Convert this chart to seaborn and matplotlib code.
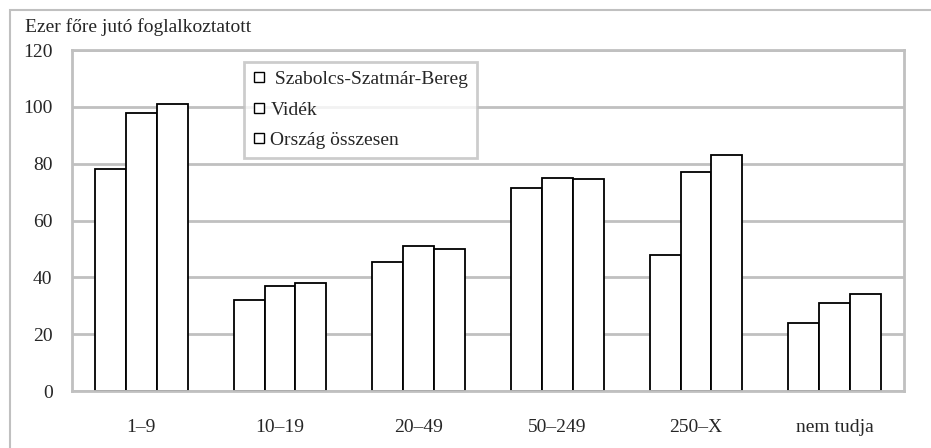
import numpy as np
import pandas as pd
import matplotlib.pyplot as plt
import seaborn as sns
from matplotlib.lines import Line2D
from matplotlib.patches import Rectangle

# Data
categories = ["1\u20139", "10\u201319", "20\u201349", "50\u2013249", "250\u2013X", "nem tudja"]
series = [" Szabolcs-Szatmár-Bereg", "Vidék", "Ország összesen"]
szabolcs = [78, 32, 45.5, 71.5, 48, 24]
videk = [98, 37, 51, 75, 77, 31]
orszag = [101, 38, 50, 74.5, 83, 34]
y_ticks = [0, 20, 40, 60, 80, 100, 120]

GRID = "#c0c0c0"
FS = 14

sns.set_style("white")
plt.rcParams["font.family"] = ["Liberation Serif", "DejaVu Serif"]
plt.rcParams["font.size"] = FS

df = pd.DataFrame({
    "kat": categories * 3,
    "sor": [s for s in series for _ in categories],
    "ertek": szabolcs + videk + orszag,
})

fig = plt.figure(figsize=(9.31, 4.48), dpi=100)
ax = fig.add_axes([72 / 931, 1 - 391 / 448, (904 - 72) / 931, (391 - 50) / 448])

sns.barplot(data=df, x="kat", y="ertek", hue="sor", order=categories,
            hue_order=series, palette=["white"] * 3, edgecolor="black",
            linewidth=1.3, width=0.67, saturation=1, legend=False, ax=ax)

ax.set_xlim(-0.5, len(categories) - 0.5)
ax.set_ylim(0, 120)
ax.set_yticks(y_ticks)
ax.yaxis.grid(True, color=GRID, linewidth=2)
ax.set_axisbelow(True)
for sp in ax.spines.values():
    sp.set_color(GRID)
    sp.set_linewidth(2)
    sp.set_visible(True)

ax.set_xlabel("")
ax.set_ylabel("")
ax.tick_params(axis="y", length=0, pad=14, labelsize=FS)
ax.tick_params(axis="x", which="major", length=0, pad=20, labelsize=FS)
ax.set_xticks(np.arange(len(categories) - 1) + 0.5, minor=True)
ax.tick_params(axis="x", which="minor", direction="in", length=5,
               width=2, color=GRID)

handles = [Line2D([], [], marker="s", linestyle="", markersize=7.5,
                  markerfacecolor="white", markeredgecolor="black",
                  markeredgewidth=1) for _ in series]
leg = ax.legend(handles, series, loc="upper left",
                bbox_to_anchor=(0.207, 0.965), frameon=True, fancybox=False,
                fontsize=FS, handlelength=0.6, handletextpad=0.3,
                labelspacing=0.65, borderpad=0.45, borderaxespad=0)
leg.get_frame().set_edgecolor(GRID)
leg.get_frame().set_linewidth(2)

fig.text(25 / 931, 1 - 27 / 448, "Ezer főre jutó foglalkoztatott",
         ha="left", va="center", fontsize=FS)

# outer frame, cut off on the right and bottom
fig.patches.append(Rectangle((10 / 931, -0.1), 1.2, 1.1 - 10 / 448,
                             transform=fig.transFigure, fill=False,
                             edgecolor=GRID, linewidth=1.5))

fig.savefig("out.png", dpi=100)
